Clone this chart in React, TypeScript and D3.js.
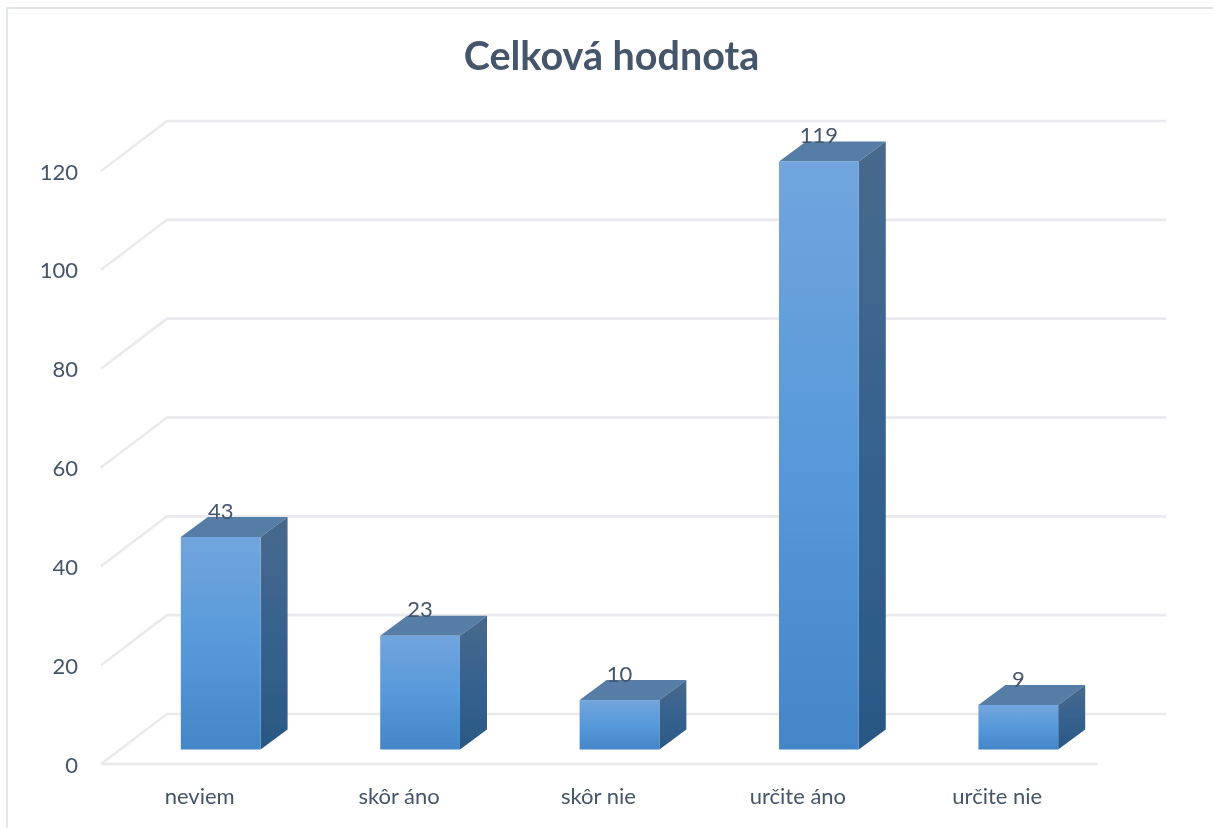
import React from "react";
import * as d3 from "d3";

const categories = ["neviem", "skôr áno", "skôr nie", "určite áno", "určite nie"];
const values = [43, 23, 10, 119, 9];
const ticks = [0, 20, 40, 60, 80, 100, 120];
const title = "Celková hodnota";

const W = 1213, H = 828;
const font = "Lato, Carlito, 'Open Sans', sans-serif";
const textColor = "#44546A";
const gridColor = "#E9E9EE";
const depthX = 27, depthY = -20;

const yFront = d3.scaleLinear().domain([0, 120]).range([765, 172]);
const yWall = d3.scaleLinear().domain([0, 120]).range([714, 121]);
const yBar = d3.scaleLinear().domain([0, 120]).range([749.5, 156.5]);
const xCat = d3.scaleBand<string>().domain(categories).range([101, 1098]);
const xBar = d3.scaleBand<string>().domain(categories).range([121, 1118]).paddingInner(0.6).paddingOuter(0.3);

export default function App() {
  const floorLeft = xCat.range()[0];
  const floorRight = xCat.range()[1];
  const wallLeft = 167, wallRight = 1166;
  return (
    <svg width={W} height={H} viewBox={`0 0 ${W} ${H}`}
      style={{ position: "absolute", left: 0, top: 0, background: "#fff" }} fontFamily={font}>
      <defs>
        <linearGradient id="front" x1="0" y1="0" x2="0" y2="1">
          <stop offset="0" stopColor="#72A5DD" />
          <stop offset="0.55" stopColor="#5598DA" />
          <stop offset="1" stopColor="#4386C8" />
        </linearGradient>
        <linearGradient id="side" x1="0" y1="0" x2="0" y2="1">
          <stop offset="0" stopColor="#48698C" />
          <stop offset="0.5" stopColor="#36628F" />
          <stop offset="1" stopColor="#2A5884" />
        </linearGradient>
        <filter id="soft" x="-5%" y="-5%" width="110%" height="110%">
          <feGaussianBlur stdDeviation="0.7" />
        </filter>
      </defs>
      <g filter="url(#soft)">
        <path d={`M7 828 V8 H1213`} fill="none" stroke="#E1E6EC" strokeWidth={2} />
        {ticks.map((t) => (
          <g key={t}>
            <path d={`M${floorLeft} ${yWall(t) + 50} L${wallLeft} ${yWall(t)} H${wallRight}`}
              fill="none" stroke={gridColor} strokeWidth={2.6} />
          </g>
        ))}
        <line x1={floorLeft} x2={floorRight} y1={yFront(0) - 1} y2={yFront(0) - 1} stroke={gridColor} strokeWidth={2.6} />
        {categories.map((c, i) => {
          const x = xBar(c)!;
          const w = xBar.bandwidth();
          const top = yBar(values[i]);
          const bottom = yBar(0);
          return (
            <g key={c}>
              <polygon fill="#577DA6"
                points={`${x},${top} ${x + w},${top} ${x + w + depthX},${top + depthY} ${x + depthX},${top + depthY}`} />
              <polygon fill="url(#side)"
                points={`${x + w},${top} ${x + w + depthX},${top + depthY} ${x + w + depthX},${bottom + depthY} ${x + w},${bottom}`} />
              <rect x={x} y={top} width={w} height={bottom - top} fill="url(#front)" />
            </g>
          );
        })}
        <g fill={textColor} fontSize={22}>
          {ticks.map((t) => (
            <text key={t} x={78} y={yFront(t) - 1} textAnchor="end" dominantBaseline="central">{t}</text>
          ))}
          {categories.map((c) => (
            <text key={c} x={xCat(c)! + xCat.bandwidth() / 2 - 1} y={795} textAnchor="middle" dominantBaseline="central">{c}</text>
          ))}
          {categories.map((c, i) => (
            <text key={c} x={xBar(c)! + xBar.bandwidth() / 2} y={yBar(values[i]) - 27} textAnchor="middle" dominantBaseline="central">{values[i]}</text>
          ))}
        </g>
        <text x={611.5} y={54} textAnchor="middle" dominantBaseline="central" fontSize={39.5} fontWeight={700} fill={textColor}>{title}</text>
      </g>
    </svg>
  );
}
